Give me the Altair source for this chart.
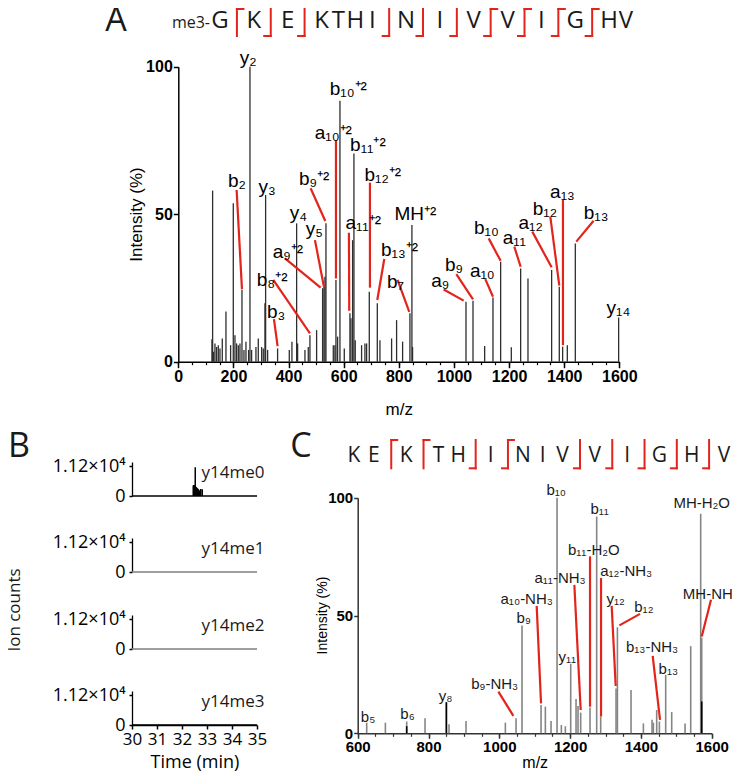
import altair as alt
import pandas as pd

# ======================= DATA =======================
# ---- Panel A : MS/MS spectrum of me3-GKEKTHINIVVIGHV ----
a_mz = [122.1, 124.5, 128.2, 133.0, 139.0, 145.1, 151.1, 159.6, 172.9, 189.8,
        199.5, 205.6, 211.6, 217.7, 223.7, 231.0, 238.2, 245.5, 255.1, 260.0,
        266.0, 281.7, 290.2, 302.3, 308.3, 314.4, 316.8, 324.1, 360.3, 402.7,
        412.3, 429.3, 432.9, 459.5, 471.6, 477.6, 501.8, 523.6, 528.4, 532.0,
        535.7, 562.3, 568.3, 572.0, 578.0, 586.5, 602.2, 622.7, 626.4, 632.4,
        637.2, 642.0, 665.0, 677.1, 683.2, 692.9, 722.0, 731.6, 773.9, 792.0,
        813.8, 840.4, 847.6, 850.0, 1043.8, 1069.2, 1111.5, 1141.7, 1169.5, 1208.2,
        1242.1, 1268.7, 1354.5, 1382.3, 1394.4, 1411.4, 1440.4, 1597.6]
a_int = [7.6, 58.0, 3.4, 6.2, 5.0, 5.6, 4.5, 7.9, 17.0, 5.6,
         53.7, 9.0, 6.2, 5.6, 6.2, 24.3, 4.0, 6.8, 4.0, 100.0,
         4.0, 5.0, 7.9, 5.0, 4.5, 19.8, 56.5, 4.0, 4.5, 4.0,
         6.8, 46.9, 6.2, 4.0, 5.0, 9.0, 10.7, 24.9, 25.4, 28.8,
         46.9, 5.6, 5.6, 27.7, 8.5, 88.5, 4.5, 16.4, 14.7, 41.2,
         70.6, 7.3, 5.6, 6.2, 6.2, 23.7, 19.8, 7.3, 7.9, 14.1,
         6.8, 16.4, 46.3, 5.0, 20.3, 20.7, 5.3, 21.8, 33.9, 4.9,
         31.6, 28.2, 31.1, 25.4, 5.1, 5.6, 40.1, 15.0]
a_lab = ["y₂", "b₁₀⁺²", "a₁₀⁺²", "b₁₁⁺²", "b₁₂⁺²", "b₉⁺²", "b₂", "y₃", "y₄", "y₅",
         "MH⁺²", "a₁₁⁺²", "a₉⁺²", "b₁₃⁺²", "b₈⁺²", "b₇", "b₃", "a₉", "b₉", "a₁₀",
         "b₁₀", "a₁₁", "a₁₂", "b₁₂", "a₁₃", "b₁₃", "y₁₄"]
a_lab_mz = [254, 616.7, 562.3, 688, 741.8, 492.7, 212.8, 322.2, 435.3, 493.3,
            860.3, 671, 397.8, 802.3, 340.4, 787.8, 354.9, 950.7, 1000.2, 1103,
            1118.1, 1219.1, 1278.4, 1330.3, 1393.8, 1516, 1596.4]
a_lab_int = [102.8, 92.3, 77.6, 73.4, 63.3, 62.1, 61.1, 59.1, 50.3, 45.1,
             50.1, 46.9, 37.3, 37.9, 27.7, 27.1, 16.9, 27.5, 32.8, 30.8,
             45.2, 41.8, 47.1, 51.6, 57.6, 50.4, 18.1]
a_ln_x1 = [211.6, 347, 344.6, 387, 495.8, 480, 572, 619, 695.3, 747.3,
           795.6, 962.8, 1008.7, 1113.9, 1126, 1219, 1284.3, 1349.7, 1395.6, 1506.8]
a_ln_y1 = [58.2, 14.4, 27.7, 35, 41.2, 58.8, 75.1, 43.7, 60.7, 34.8,
           27.7, 24.5, 29.7, 28, 41.8, 39, 44.1, 49.2, 54.8, 47.8]
a_ln_x2 = [231, 360.3, 477.6, 516.3, 528.4, 533.3, 572, 620.3, 695.3, 722,
           838, 1035.3, 1069.2, 1141.7, 1169.5, 1242.1, 1354.5, 1382.3, 1395.6, 1443.9]
a_ln_y2 = [24.5, 5.3, 9.6, 25.1, 25.4, 47.7, 28.2, 17.3, 25.1, 20.9,
           16.9, 20.7, 21.1, 22, 34.2, 32.2, 32, 25.8, 5.6, 40.7]
a_seq = "G[K]E]KTHI]N]I]V%V%I%G%HV"   # [ = b-ion, ] = y-ion, % = both
a_prefix = "me3-"

# ---- Panel B : extracted ion chromatograms ----
b_names = ["y14me0", "y14me1", "y14me2", "y14me3"]
b_time = [30, 35]
b_base = [0, 0]
b_peak_t = [32.45, 32.47, 32.49, 32.51, 32.53, 32.55, 32.57, 32.59, 32.61, 32.63,
            32.65, 32.67, 32.69, 32.75, 32.81]
b_peak_v = [3900, 4100, 4000, 3800, 10700, 3500, 3300, 3100, 2900, 2700,
            2500, 2300, 2100, 2600, 2500]
b_ymax = 11200

# ---- Panel C : MS/MS spectrum of KEKTHINIVVIGHV ----
c_mz = [625.4, 678.2, 738.4, 790.2, 850.5, 858.0, 906.0, 1017.1, 1047.3, 1064.2,
        1117.9, 1130.1, 1146.1, 1163.1, 1175.3, 1186.6, 1201.7, 1216.8, 1222.4, 1229.9,
        1256.3, 1275.1, 1286.4, 1329.8, 1333.6, 1372.1, 1407.0, 1431.5, 1435.2, 1444.6,
        1452.2, 1470.0, 1487.0, 1524.7, 1540.7, 1568.9, 1571.8]
c_int = [4.5, 4.5, 5.0, 6.4, 13.2, 3.8, 5.2, 4.5, 6.4, 45.8,
         12.0, 11.3, 5.2, 100.0, 3.5, 3.0, 29.5, 14.6, 11.6, 8.8,
         10.9, 92.0, 7.0, 19.0, 45.0, 18.4, 4.2, 5.7, 4.5, 9.9,
         5.0, 24.8, 9.0, 4.2, 37.0, 93.2, 40.5]
c_dark_mz = [738.4, 850.5, 1571.8]
c_dark_int = [3.0, 13.2, 13.5]
c_lab = ["b₅", "b₆", "y₈", "b₉-NH₃", "b₉", "a₁₀-NH₃", "y₁₁", "b₁₃-NH₃", "b₁₃", "b₁₂",
         "y₁₂", "MH-NH₃", "MH-H₂O", "b₁₀", "b₁₁", "b₁₁-H₂O", "a₁₁-NH₃", "a₁₂-NH₃"]
c_lab_mz = [629.2, 740.8, 848.1, 987, 1068.9, 1077.4, 1192.3, 1431.4, 1477.6, 1408.4,
            1328.8, 1597.6, 1571.8, 1160.7, 1283.6, 1267.1, 1171.6, 1358.5]
c_lab_int = [7.1, 8.4, 16, 21, 49, 57.1, 32.3, 36.5, 27.3, 53.5,
             57.1, 59.2, 97.9, 103.3, 95.2, 78, 66.1, 68.7]
c_ln_x1 = [997.4, 1105.6, 1212, 1256.3, 1287.4, 1317.5, 1397.6, 1433.3, 1598.1]
c_ln_y1 = [17.7, 54.1, 63, 75.1, 65.9, 54.1, 50.7, 32.9, 56.7]
c_ln_x2 = [1039.7, 1117.9, 1229.9, 1256.3, 1287.4, 1328.8, 1339.2, 1454, 1571.8]
c_ln_y2 = [7.4, 12.7, 9.9, 11.3, 7.1, 20.1, 45.8, 5.7, 41.1]
c_seq = "KE[K[TH]I%NIV]V]I]G]H]V"

# ======================= STYLE / LAYOUT =======================
RED = "#e3241b"
INK = "#1a1a1a"
SANS = "Liberation Sans"
SEQF = "Open Sans"
W, H = 724, 764
M = 8
BRK = "[]%"


def P(v):
    return v - M


def S(domain, rng):
    return alt.Scale(domain=domain, range=rng, nice=False, zero=False)


def axis(orient, offset, values, **kw):
    d = dict(orient=orient, offset=offset, values=values, grid=False, labelFlush=False,
             labelOverlap=False, domainColor="black", domainWidth=1.5, tickColor="black",
             tickWidth=1.5, labelColor="black", titleColor="black", title=None)
    d.update(kw)
    return alt.Axis(**d)


def seq_layout(seq, ll, lb, bl):
    pos, p = [], 0.0
    for i, ch in enumerate(seq):
        if i > 0:
            if ch in BRK:
                p += lb
            elif seq[i - 1] in BRK:
                p += bl
            else:
                p += ll
        pos.append(p)
    return pos


def seq_layers(seq, steps, xr, yr, base_y, size, hook, prefix=None):
    pos = seq_layout(seq, *steps)
    xs = S([0, pos[-1]], xr)
    ys = S([0, 1], yr)
    letters = pd.DataFrame({"p": [p for c, p in zip(seq, pos) if c not in BRK],
                            "t": [c for c in seq if c not in BRK]})
    letters["yb"] = base_y
    seg = {"x1": [], "y1": [], "x2": [], "y2": []}

    def add(a, b, c, d):
        seg["x1"].append(a); seg["y1"].append(b); seg["x2"].append(c); seg["y2"].append(d)

    for c, p in zip(seq, pos):
        if c not in BRK:
            continue
        add(p, 0, p, 1)
        if c in "[%":
            add(p, 1, p + hook, 1)
        if c in "]%":
            add(p - hook, 0, p, 0)
    out = [
        alt.Chart(letters).mark_text(font=SEQF, fontSize=size, color=INK, baseline="alphabetic",
                                     align="center").encode(
            x=alt.X("p:Q", scale=xs, axis=None), y=alt.Y("yb:Q", scale=ys, axis=None), text="t:N"),
        alt.Chart(pd.DataFrame(seg)).mark_rule(color=RED, strokeWidth=2, strokeCap="square").encode(
            x=alt.X("x1:Q", scale=xs, axis=None), x2="x2:Q",
            y=alt.Y("y1:Q", scale=ys, axis=None), y2="y2:Q"),
    ]
    if prefix:
        pre = pd.DataFrame({"p": [0.0], "yb": [base_y], "t": [prefix]})
        out.append(alt.Chart(pre).mark_text(font=SEQF, fontSize=16, color=INK, baseline="alphabetic",
                                            align="right", dx=-10).encode(
            x=alt.X("p:Q", scale=xs, axis=None), y=alt.Y("yb:Q", scale=ys, axis=None), text="t:N"))
    return out


def note(text, x, y, size, angle=0, font=SEQF):
    return alt.Chart(pd.DataFrame({"t": [text]})).mark_text(
        font=font, fontSize=size, color=INK, angle=angle, align="center",
        baseline="alphabetic" if angle == 0 else "middle").encode(
        x=alt.value(x), y=alt.value(y), text="t:N")


layers = []

# ---------------- Panel A ----------------
AXR = [P(178.3), P(619.3)]
AYR = [P(361.7), P(66.7)]
dfA = pd.DataFrame({"mz": a_mz, "i": a_int})
axA_x = axis("bottom", P(361.7) - H, list(range(0, 1601, 200)), format="d",
             labelFont=SANS, labelFontWeight="bold", labelFontSize=16, tickSize=6, labelPadding=1,
             title="m/z", titleFont=SANS, titleFontSize=17, titleFontWeight="normal",
             titleX=P(398.8), titleY=48, titleBaseline="middle")
axA_minor = axis("bottom", P(361.7) - H, list(range(0, 1601, 50)), labels=False, domain=False,
                 tickSize=3, tickWidth=1.2)
axA_y = axis("left", -P(178.3), [0, 50, 100], labelFont=SANS, labelFontWeight="bold",
             labelFontSize=16, tickSize=5, labelPadding=1,
             title="Intensity (%)", titleFont=SANS, titleFontSize=17, titleFontWeight="normal",
             titleX=-42.3, titleY=P(214), titleBaseline="middle", titleAngle=270)
layers.append(alt.Chart(dfA).mark_rule(color="#2e2e2e", strokeWidth=1.3).encode(
    x=alt.X("mz:Q", scale=S([0, 1600], AXR), axis=axA_x),
    y=alt.Y("i:Q", scale=S([0, 100], AYR), axis=axA_y),
    y2=alt.datum(0)))
layers.append(alt.Chart(dfA).mark_rule(opacity=0).encode(
    x=alt.X("mz:Q", scale=S([0, 1600], AXR), axis=axA_minor),
    y=alt.Y("i:Q", scale=S([0, 100], AYR), axis=None)))
dfAl = pd.DataFrame({"x1": a_ln_x1, "y1": a_ln_y1, "x2": a_ln_x2, "y2": a_ln_y2})
layers.append(alt.Chart(dfAl).mark_rule(color=RED, strokeWidth=2.2).encode(
    x=alt.X("x1:Q", scale=S([0, 1600], AXR), axis=None), x2="x2:Q",
    y=alt.Y("y1:Q", scale=S([0, 100], AYR), axis=None), y2="y2:Q"))
dfAt = pd.DataFrame({"mz": a_lab_mz, "i": a_lab_int, "t": a_lab})
layers.append(alt.Chart(dfAt).mark_text(font=SANS, fontSize=19, color="black", baseline="middle",
                                        align="center").encode(
    x=alt.X("mz:Q", scale=S([0, 1600], AXR), axis=None),
    y=alt.Y("i:Q", scale=S([0, 100], AYR), axis=None), text="t:N"))
layers += seq_layers(a_seq, (16.875, 16.875, 16.875), [P(220), P(626)], [P(36), P(9)],
                     0.285, 24, 6.5, prefix=a_prefix)

# ---------------- Panel B ----------------
BXR = [P(132), P(257)]
zeros = [496, 572, 649, 725]
trace_cols = ["black", "#7f7f7f", "#7f7f7f", "black"]
for k, z in enumerate(zeros):
    ys = S([0, 12700], [P(z), P(z - 34)])
    yax = axis("left", -P(132), [0, b_ymax],
               labelExpr="datum.value == 0 ? '0' : '1.12×10⁴'",
               labelFont=SEQF, labelFontSize=18, tickSize=3, labelPadding=4, domainWidth=1.3)
    if k == 3:
        xax = axis("bottom", P(z) - H, [30, 31, 32, 33, 34, 35], format="d",
                   labelFont=SEQF, labelFontSize=17, tickSize=4, labelPadding=2,
                   title="Time (min)", titleFont=SEQF, titleFontSize=18, titleFontWeight="normal",
                   titleX=P(194.5), titleY=37, titleBaseline="middle")
    else:
        xax = None
    dft = pd.DataFrame({"t": b_time, "v": b_base})
    layers.append(alt.Chart(dft).mark_line(color=trace_cols[k], strokeWidth=1.5).encode(
        x=alt.X("t:Q", scale=S([30, 35], BXR), axis=xax),
        y=alt.Y("v:Q", scale=ys, axis=yax)))
    dfl = pd.DataFrame({"t": [35.3], "v": [8600], "n": [b_names[k]]})
    layers.append(alt.Chart(dfl).mark_text(font=SEQF, fontSize=17, color=INK, align="right",
                                           baseline="middle").encode(
        x=alt.X("t:Q", scale=S([30, 35], BXR), axis=None),
        y=alt.Y("v:Q", scale=ys, axis=None), text="n:N"))
    if k == 0:
        dfp = pd.DataFrame({"t": b_peak_t, "v": b_peak_v})
        layers.append(alt.Chart(dfp).mark_rule(color="black", strokeWidth=1.5).encode(
            x=alt.X("t:Q", scale=S([30, 35], BXR), axis=None),
            y=alt.Y("v:Q", scale=ys, axis=None), y2=alt.datum(0)))

# ---------------- Panel C ----------------
CXR = [P(357.7), P(711.7)]
CYR = [P(733.3), P(497.7)]
dfC = pd.DataFrame({"mz": c_mz, "i": c_int})
axC_x = axis("bottom", P(733.3) - H, list(range(600, 1601, 200)), format="d",
             labelFont=SANS, labelFontWeight="bold", labelFontSize=15, tickSize=5, labelPadding=1,
             domainColor="#333333", tickColor="#333333",
             title="m/z", titleFont=SANS, titleFontSize=16, titleFontWeight="normal",
             titleX=P(534.7), titleY=29, titleBaseline="middle")
axC_minor = axis("bottom", P(733.3) - H, list(range(600, 1601, 50)), labels=False, domain=False,
                 tickSize=3, tickWidth=1.2, tickColor="#333333")
axC_y = axis("left", -P(357.7), [0, 50, 100], labelFont=SANS, labelFontWeight="bold",
             labelFontSize=15, tickSize=4, labelPadding=1, domainColor="#333333",
             tickColor="#333333",
             title="Intensity (%)", titleFont=SANS, titleFontSize=14, titleFontWeight="normal",
             titleX=-35.7, titleY=P(615), titleBaseline="middle", titleAngle=270)
layers.append(alt.Chart(dfC).mark_rule(color="#858585", strokeWidth=1.6).encode(
    x=alt.X("mz:Q", scale=S([600, 1600], CXR), axis=axC_x),
    y=alt.Y("i:Q", scale=S([0, 100], CYR), axis=axC_y),
    y2=alt.datum(0)))
layers.append(alt.Chart(dfC).mark_rule(opacity=0).encode(
    x=alt.X("mz:Q", scale=S([600, 1600], CXR), axis=axC_minor),
    y=alt.Y("i:Q", scale=S([0, 100], CYR), axis=None)))
dfCd = pd.DataFrame({"mz": c_dark_mz, "i": c_dark_int})
layers.append(alt.Chart(dfCd).mark_rule(color="black", strokeWidth=1.6).encode(
    x=alt.X("mz:Q", scale=S([600, 1600], CXR), axis=None),
    y=alt.Y("i:Q", scale=S([0, 100], CYR), axis=None), y2=alt.datum(0)))
dfCl = pd.DataFrame({"x1": c_ln_x1, "y1": c_ln_y1, "x2": c_ln_x2, "y2": c_ln_y2})
layers.append(alt.Chart(dfCl).mark_rule(color=RED, strokeWidth=2.2).encode(
    x=alt.X("x1:Q", scale=S([600, 1600], CXR), axis=None), x2="x2:Q",
    y=alt.Y("y1:Q", scale=S([0, 100], CYR), axis=None), y2="y2:Q"))
dfCt = pd.DataFrame({"mz": c_lab_mz, "i": c_lab_int, "t": c_lab})
layers.append(alt.Chart(dfCt).mark_text(font=SANS, fontSize=15, color=INK, baseline="middle",
                                        align="center").encode(
    x=alt.X("mz:Q", scale=S([600, 1600], CXR), axis=None),
    y=alt.Y("i:Q", scale=S([0, 100], CYR), axis=None), text="t:N"))
layers += seq_layers(c_seq, (20, 17.5, 15), [P(354), P(724)], [P(468.3), P(440)],
                     0.233, 21, 6)

# ---------------- panel letters & shared title ----------------
layers.append(note("A", P(116), P(31), 34))
layers.append(note("B", P(19), P(457), 34))
layers.append(note("C", P(301), P(457), 34))
layers.append(note("Ion counts", P(15), P(610), 17, angle=270))

chart = alt.layer(*layers).resolve_scale(x="independent", y="independent").properties(
    width=W, height=H, padding=0, autosize="none"
).configure_view(stroke=None)

chart.save("out.html", embed_options={"renderer": "svg", "actions": False})
